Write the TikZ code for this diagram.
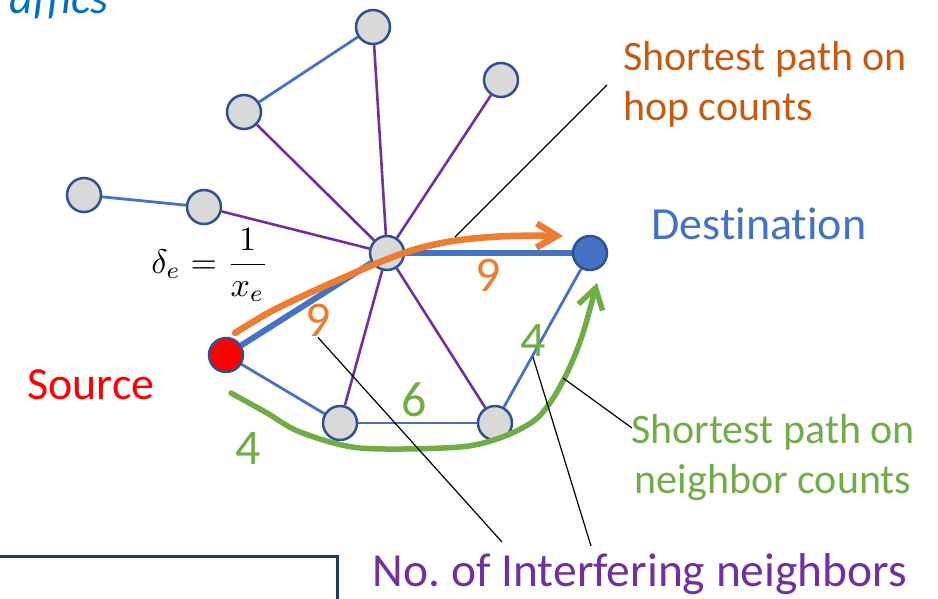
\documentclass[tikz,border=0pt]{standalone}
\usepackage{fontspec}
\setmainfont{Carlito}[Ligatures=NoCommon]
\usetikzlibrary{arrows.meta,backgrounds}
\definecolor{nodeedge}{HTML}{2F528F}
\definecolor{nodegray}{HTML}{D9D9D9}
\definecolor{linkblue}{HTML}{4472C4}
\definecolor{linkpurple}{HTML}{7030A0}
\definecolor{hoporange}{HTML}{ED7D31}
\definecolor{hoptext}{HTML}{C55A11}
\definecolor{nbgreen}{HTML}{70AD47}
\definecolor{titleblue}{HTML}{0070C0}
\definecolor{boxnavy}{HTML}{1F3864}
\begin{document}
\begin{tikzpicture}[x=1pt,y=-1pt,
        vertex/.style={circle,draw=nodeedge,line width=2.5pt,fill=nodegray,minimum size=34pt,inner sep=0pt},
        thinlink/.style={draw=linkblue,line width=2.8pt},
        purplelink/.style={draw=linkpurple,line width=2.6pt},
        thicklink/.style={draw=linkblue,line width=6pt},
        pointer/.style={draw=black,line width=1.2pt},
        bigtext/.style={font=\fontsize{46}{54}\selectfont},
        midtext/.style={font=\fontsize{42}{50}\selectfont},
        weight/.style={font=\fontsize{50}{60}\selectfont,inner sep=1pt}]
            \useasboundingbox (0,0) rectangle (938,598);

            \node[vertex] (top) at (373,27) {};
            \node[vertex] (topright) at (501,80) {};
            \node[vertex] (upleft) at (244,112) {};
            \node[vertex] (farleft) at (84,195) {};
            \node[vertex] (left) at (204,207) {};
            \node[vertex] (hub) at (387,253) {};
            \node[vertex,fill=linkblue] (dest) at (590,253) {};
            \node[vertex,fill=red] (src) at (226,355) {};
            \node[vertex] (botleft) at (340,423) {};
            \node[vertex] (botright) at (495,423) {};

            \begin{pgfonlayer}{background}
                \draw[thinlink] (farleft) -- (left);
                \draw[thinlink] (upleft) -- (top);
                \draw[purplelink] (top) -- (hub);
                \draw[purplelink] (topright) -- (hub);
                \draw[purplelink] (upleft) -- (hub);
                \draw[purplelink] (left) -- (hub);
                \draw[purplelink] (hub) -- (botleft);
                \draw[purplelink] (hub) -- (botright);
                \draw[thicklink] (src) -- (hub);
                \draw[thicklink] (hub) -- (dest);
                \draw[thinlink] (src) -- (botleft);
                \draw[thinlink] (botleft) -- (botright);
                \draw[thinlink] (botright) -- (dest);
            \end{pgfonlayer}

            \draw[hoporange,line width=6.5pt,line cap=round,-{Straight Barb[length=20pt,width=24pt]}]
                plot[smooth,tension=0.6] coordinates {(235,333) (270,312) (305,295) (345,277) (385,260) (420,248) (460,240) (510,236) (563,236)};
            \draw[nbgreen,line width=5.5pt,line cap=round,-{Straight Barb[length=20pt,width=25pt]}]
                plot[smooth,tension=0.5] coordinates {(231,393) (267,413) (300,432) (360,448) (460,447) (505,436) (535,420) (552,400) (565,377) (575,355) (584,330) (597,283)};

            \node[weight,text=hoporange] (hopa) at (488,275) {9};
            \node[weight,text=hoporange] (hopb) at (318,320) {9};
            \node[weight,text=nbgreen] (nba) at (414,400) {6};
            \node[weight,text=nbgreen] (nbb) at (248,448) {4};
            \node[weight,text=nbgreen] (nbc) at (533,340) {4};
            \node[scale=3.4] (delta) at (210,265) {$\displaystyle\delta_e=\frac{1}{x_e}$};

            \node[bigtext,text=red] (srctext) at (91,385) {Source};
            \node[bigtext,text=linkblue] (desttext) at (759,224) {Destination};
            \node[midtext,text=hoptext,align=left] (hoptxt) at (765,84) {Shortest path on\\hop counts};
            \node[midtext,text=nbgreen,align=center] (nbtxt) at (773,458) {Shortest path on\\neighbor counts};
            \node[font=\fontsize{47.5}{56}\selectfont,text=linkpurple] (inftxt) at (640,574) {No.\ of Interfering neighbors};
            \node[bigtext,text=titleblue,anchor=base west] (title) at (6,13) {\itshape affics};

            \coordinate (hopend) at (607,85);
            \coordinate (hopstart) at (455,237);
            \coordinate (nbend) at (632,428);
            \coordinate (nbstart) at (563,378);
            \coordinate (infa) at (502,542);
            \coordinate (infb) at (591,546);
            \draw[pointer] (hopstart) -- (hopend);
            \draw[pointer] (nbstart) -- (nbend);
            \draw[pointer] (hopb.south) -- (infa);
            \draw[pointer] (nbc.south) -- (infb);

            \draw[boxnavy,line width=3pt] (-5,556) -- (337,556) -- (337,610);
        \end{tikzpicture}
\end{document}
